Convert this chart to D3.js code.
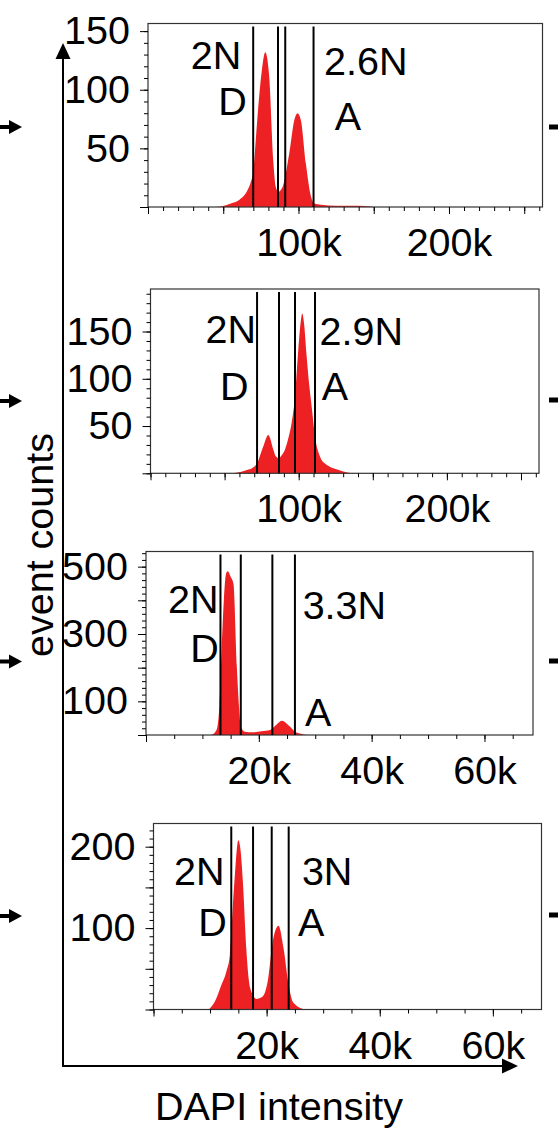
<!DOCTYPE html>
<html>
<head>
<meta charset="utf-8">
<script src="https://cdn.jsdelivr.net/npm/d3@7"></script>
<style>
  body { margin: 0; background: #fff; }
  svg { display: block; font-family: "Liberation Sans", Arial, sans-serif; }
</style>
</head>
<body>
<svg id="chart" width="558" height="1139"></svg>
<script>
// histogram traces, DAPI intensity in k, event counts
const dapi1 = [45, 48.4, 55, 60.6, 66, 68, 70, 72.6, 75.6, 77.9, 80.5, 83.2, 84.9, 86.6, 89.4, 93.9, 97.2, 99.4, 101.6, 104.9, 108.3, 110.6, 115, 125, 140, 148, 150];
const count1 = [0, 0.5, 3, 6, 14, 20, 31, 74, 116, 132, 112, 40, 17, 13, 17, 46, 74, 80, 74, 37, 9, 3, 2, 1, 1, 0.5, 0];

const dapi2 = [55, 57.7, 65, 70, 71.9, 76, 79.5, 82.9, 84.5, 86.7, 88.5, 90.7, 93, 95.2, 97.5, 99.7, 101.5, 102.4, 103.5, 105.4, 107, 108.8, 111, 114.4, 118, 121, 126, 130, 135.7];
const count2 = [0, 0.5, 3.5, 7, 10.6, 28, 40.6, 25, 18, 16, 19, 25, 37, 53, 81, 130, 162, 169, 160, 123, 95, 70, 39, 17.6, 10, 7, 4, 2, 0];

const dapi3 = [11, 11.6, 12.5, 13, 13.4, 13.8, 14.2, 14.5, 15, 15.5, 16.1, 16.5, 16.8, 17.5, 19, 20.5, 22, 23.2, 24.1, 25, 25.5, 26.4, 27.5, 28.5];
const count3 = [0, 1, 15, 84, 250, 400, 480, 486, 470, 450, 202, 80, 25, 10, 8, 11, 15, 32, 42, 33, 25, 10, 4, 0];

const dapi4 = [9.8, 11, 12, 12.9, 13.5, 14.3, 15, 15.4, 15.8, 16.4, 17.1, 18.2, 19.3, 20.2, 21.1, 22.1, 23, 23.9, 24.7, 26.7];
const count4 = [0, 12, 30, 47, 67, 157, 208, 195, 157, 75, 26, 13, 16, 35, 84, 103, 75, 30, 8.5, 0];

// gate positions (k)
const gates1 = [69.9, 86.4, 91.2, 110.0];
const gates2 = [71.9, 86.7, 97.5, 111.0];
const gates3 = [13.2, 16.8, 22.4, 26.4];
const gates4 = [13.75, 17.6, 20.9, 23.9];

// gate labels: text, x (k), y (counts)
const labelText1 = ["2N", "D", "2.6N", "A"], labelX1 = [45.2, 56.1, 144.7, 132.9], labelY1 = [117.4, 78.5, 112.6, 65.7];
const labelText2 = ["2N", "D", "2.9N", "A"], labelX2 = [54.2, 56.5, 142.2, 124.5], labelY2 = [137.6, 77.6, 135.8, 77.6];
const labelText3 = ["2N", "D", "3.3N", "A"], labelX3 = [8.38, 10.36, 35.16, 30.52], labelY3 = [363, 217.7, 343.6, 26.7];
const labelText4 = ["2N", "D", "3N", "A"], labelX4 = [8.1, 10.44, 30.7, 27.9], labelY4 = [153, 90.7, 153, 90.7];

// axis ticks
const xMax12 = 262.144, xMax34 = 68.6;
const xMajor12 = [0, 50, 100, 150, 200, 250], xLabels12 = [100, 200];
const xMajor34 = [0, 20, 40, 60], xLabels34 = [20, 40, 60];
const yMax = [156.5, 195, 545, 228.5];
const yMajor = [[0, 50, 100, 150], [0, 50, 100, 150], [0, 100, 200, 300, 400, 500], [0, 50, 100, 150, 200]];
const yLabels = [[50, 100, 150], [50, 100, 150], [100, 300, 500], [100, 200]];
const yMinorStep = [10, 10, 20, 10];

const panels = [
  { box: [148, 23.5, 542.5, 207], xMax: xMax12, xMajor: xMajor12, xLabels: xLabels12, xStep: 10,
    dapi: dapi1, count: count1, gates: gates1, lt: labelText1, lx: labelX1, ly: labelY1, arrowY: 127, markY: 127 },
  { box: [150.5, 289, 539, 473.3], xMax: xMax12, xMajor: xMajor12, xLabels: xLabels12, xStep: 10,
    dapi: dapi2, count: count2, gates: gates2, lt: labelText2, lx: labelX2, ly: labelY2, arrowY: 401, markY: 400 },
  { box: [146, 551.5, 533, 735], xMax: xMax34, xMajor: xMajor34, xLabels: xLabels34, xStep: 5,
    dapi: dapi3, count: count3, gates: gates3, lt: labelText3, lx: labelX3, ly: labelY3, arrowY: 661.5, markY: 661 },
  { box: [153.5, 823.5, 541.5, 1009.5], xMax: xMax34, xMajor: xMajor34, xLabels: xLabels34, xStep: 5,
    dapi: dapi4, count: count4, gates: gates4, lt: labelText4, lx: labelX4, ly: labelY4, arrowY: 916, markY: 915 }
];

const svg = d3.select("#chart");
const fontSize = 39.5;

panels.forEach((p, i) => {
  const [x0, y0, x1, y1] = p.box;
  const x = d3.scaleLinear().domain([0, p.xMax]).range([x0, x1]);
  const y = d3.scaleLinear().domain([0, yMax[i]]).range([y1, y0]);
  const g = svg.append("g");

  // histogram
  const pts = p.dapi.map((d, j) => [d, p.count[j]]);
  g.append("path")
    .datum(pts)
    .attr("fill", "#ed2024")
    .attr("d", d3.area().x(d => x(d[0])).y0(y(0)).y1(d => y(d[1])).curve(d3.curveMonotoneX));

  // frame
  g.append("rect")
    .attr("x", x0).attr("y", y0)
    .attr("width", x1 - x0).attr("height", y1 - y0)
    .attr("fill", "none").attr("stroke", "#333").attr("stroke-width", 1.2);

  // gates
  g.selectAll(".gate").data(p.gates).join("line")
    .attr("x1", d => x(d)).attr("x2", d => x(d))
    .attr("y1", y0 + 3).attr("y2", y1)
    .attr("stroke", "#000").attr("stroke-width", 2);

  // gate labels
  g.selectAll(".lab").data(p.lt).join("text")
    .attr("x", (d, j) => x(p.lx[j]))
    .attr("y", (d, j) => y(p.ly[j]))
    .attr("text-anchor", "middle")
    .attr("font-size", fontSize)
    .text(d => d);

  // x axis: minor then major
  const xMinor = d3.range(0, p.xMax, p.xStep);
  g.append("g").attr("transform", `translate(0,${y1})`)
    .call(d3.axisBottom(x).tickValues(xMinor).tickSize(4).tickFormat(""))
    .call(a => a.select(".domain").remove());
  g.append("g").attr("transform", `translate(0,${y1})`)
    .call(d3.axisBottom(x).tickValues(p.xMajor).tickSize(7).tickPadding(14)
      .tickFormat(d => p.xLabels.includes(d) ? d + "k" : ""))
    .call(a => a.select(".domain").remove())
    .call(a => a.selectAll("text").attr("font-size", fontSize).attr("font-family", null).attr("fill", "#000"));

  // y axis
  const yMinor = d3.range(0, yMax[i], yMinorStep[i]);
  g.append("g").attr("transform", `translate(${x0},0)`)
    .call(d3.axisLeft(y).tickValues(yMinor).tickSize(4).tickFormat(""))
    .call(a => a.select(".domain").remove());
  g.append("g").attr("transform", `translate(${x0},0)`)
    .call(d3.axisLeft(y).tickValues(yMajor[i]).tickSize(8).tickPadding(10)
      .tickFormat(d => yLabels[i].includes(d) ? d : ""))
    .call(a => a.select(".domain").remove())
    .call(a => a.selectAll("text").attr("font-size", fontSize).attr("font-family", null).attr("fill", "#000"));

  // left arrow into the panel row
  svg.append("rect").attr("x", 0).attr("y", p.arrowY - 2).attr("width", 11).attr("height", 4).attr("fill", "#000");
  svg.append("path")
    .attr("d", `M9,${p.arrowY - 7}L22,${p.arrowY}L9,${p.arrowY + 7}Z`)
    .attr("fill", "#000");

  // clipped mark on the right edge
  svg.append("rect").attr("x", 549).attr("y", p.markY - 2.5).attr("width", 9).attr("height", 5).attr("fill", "#000");
});

// main axes with arrow heads
const ax = 63, ayBottom = 1066;
svg.append("line").attr("x1", ax).attr("x2", ax).attr("y1", ayBottom + 1).attr("y2", 56)
  .attr("stroke", "#000").attr("stroke-width", 2);
svg.append("path").attr("d", `M${ax},43L${ax + 7.5},59L${ax - 7.5},59Z`).attr("fill", "#000");
svg.append("line").attr("x1", ax).attr("x2", 505).attr("y1", ayBottom).attr("y2", ayBottom)
  .attr("stroke", "#000").attr("stroke-width", 2);
svg.append("path").attr("d", `M518,${ayBottom}L502,${ayBottom - 7.5}L502,${ayBottom + 7.5}Z`).attr("fill", "#000");

svg.append("text")
  .attr("transform", "translate(53,545) rotate(-90)")
  .attr("text-anchor", "middle")
  .attr("font-size", 39.5)
  .text("event counts");

svg.append("text")
  .attr("x", 279).attr("y", 1120)
  .attr("text-anchor", "middle")
  .attr("font-size", 39.5)
  .text("DAPI intensity");
</script>
</body>
</html>
